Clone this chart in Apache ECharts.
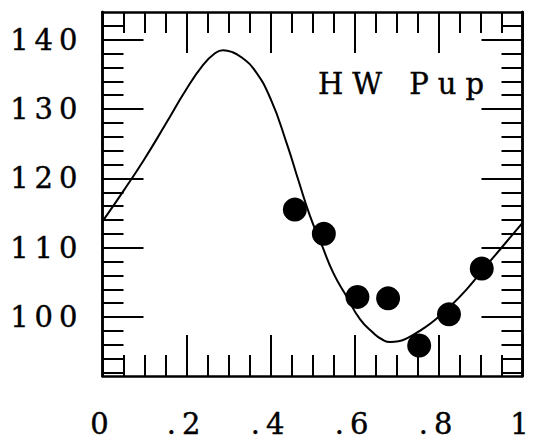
<!DOCTYPE html>
<html>
<head>
<meta charset="utf-8">
<script src="https://cdn.jsdelivr.net/npm/echarts@6/dist/echarts.min.js"></script>
<style>
  html, body { margin: 0; padding: 0; background: #fff; }
  #chart { width: 534px; height: 440px; }
  #chart text { letter-spacing: 6px; }
</style>
</head>
<body>
<div id="chart"></div>
<script>
// ---- data ----
const starName = 'HW Pup';
const xTickValues = [0, 0.2, 0.4, 0.6, 0.8, 1];
const xTickLabels = ['0', '.2', '.4', '.6', '.8', '1'];
const yMajorTicks = [100, 110, 120, 130, 140];
const yMajorLabels = ['100', '110', '120', '130', '140'];
const yMinorTicks = [92, 94, 96, 98, 102, 104, 106, 108, 112, 114, 116, 118, 122, 124, 126, 128, 132, 134, 136, 138, 142];

// fitted velocity curve (phase, km/s)
const curvePhase = [0.00, 0.05, 0.10, 0.15, 0.20, 0.24, 0.265, 0.287, 0.31, 0.33, 0.36, 0.40, 0.44, 0.466, 0.494, 0.522, 0.55, 0.581, 0.613, 0.645, 0.665, 0.685, 0.705, 0.73, 0.76, 0.79, 0.827, 0.867, 0.907, 0.95, 1.00];
const curveVelocity = [113.8, 118.2, 122.8, 127.8, 132.9, 136.4, 137.9, 138.5, 138.2, 137.5, 135.8, 131.5, 124.8, 119.8, 114.6, 110.4, 106.3, 103.0, 99.7, 97.7, 96.8, 96.4, 96.5, 97.1, 98.2, 99.5, 101.5, 104.0, 106.9, 110.0, 113.6];

// observed points
const obsPhase = [0.458, 0.527, 0.607, 0.680, 0.754, 0.825, 0.903];
const obsVelocity = [115.5, 112.0, 102.9, 102.7, 95.9, 100.4, 107.0];

const X_MIN = 0, X_MAX = 1, Y_MIN = 91.5, Y_MAX = 144;

const chart = echarts.init(document.getElementById('chart'), null, { renderer: 'svg' });

const font = 'DejaVu Serif';
const black = '#000';
const lineStyle = { color: black, width: 2 };
const FS = 29;
const textStroke = { textBorderColor: black, textBorderWidth: 0.4 };

function xAxisDef(pos, showLabels) {
  return {
    type: 'value', position: pos, min: X_MIN, max: X_MAX, interval: 0.2,
    axisLine: { show: true, onZero: false, lineStyle: { color: black, width: 2.5 } },
    axisTick: { show: true, inside: true, length: 41, lineStyle: lineStyle },
    minorTick: { show: true, splitNumber: 4, length: 21, lineStyle: lineStyle },
    splitLine: { show: false }, minorSplitLine: { show: false },
    axisLabel: Object.assign({
      show: showLabels, margin: 33, color: black, fontFamily: font, fontSize: FS, lineHeight: 29,
      showMinLabel: true, showMaxLabel: true,
      formatter: v => xTickLabels[xTickValues.findIndex(t => Math.abs(t - v) < 1e-6)]
    }, textStroke)
  };
}
function yAxisDef(pos, ticks, len, showLabels) {
  return {
    type: 'value', position: pos, min: Y_MIN, max: Y_MAX,
    axisLine: { show: true, onZero: false, lineStyle: { color: black, width: 2.5 } },
    axisTick: { show: true, inside: true, length: len, customValues: ticks, lineStyle: lineStyle },
    splitLine: { show: false },
    axisLabel: showLabels ? Object.assign({
      show: true, margin: 19, color: black, fontFamily: font, fontSize: FS,
      customValues: ticks,
      formatter: v => yMajorLabels[yMajorTicks.indexOf(Math.round(v))]
    }, textStroke) : { show: false }
  };
}

chart.setOption({
  animation: false,
  backgroundColor: '#fff',
  grid: { left: 102.5, top: 12, width: 420, height: 364, outerBoundsMode: 'none', containLabel: false },
  xAxis: [xAxisDef('bottom', true), xAxisDef('top', false)],
  yAxis: [
    yAxisDef('left', yMajorTicks, 41, true),
    yAxisDef('left', yMinorTicks, 21, false),
    yAxisDef('right', yMajorTicks, 41, false),
    yAxisDef('right', yMinorTicks, 21, false)
  ],
  graphic: [{
    type: 'text', x: 318, y: 84, z: 10,
    style: { text: starName, fill: black, fontFamily: font, fontSize: FS, align: 'left', verticalAlign: 'middle', stroke: black, lineWidth: 0.4 }
  }],
  series: [
    {
      type: 'line', xAxisIndex: 0, yAxisIndex: 0, smooth: 0.5, symbol: 'none',
      lineStyle: { color: black, width: 2 },
      data: curvePhase.map((p, i) => [p, curveVelocity[i]]),
      z: 2
    },
    {
      type: 'scatter', xAxisIndex: 0, yAxisIndex: 0, symbol: 'circle', symbolSize: 24,
      itemStyle: { color: black, opacity: 1 },
      data: obsPhase.map((p, i) => [p, obsVelocity[i]]),
      z: 3
    }
  ]
});

// wider tracking for the star name, as in the reference
document.querySelectorAll('#chart text').forEach(t => {
  if (t.textContent === starName) t.style.letterSpacing = '9px';
});
</script>
</body>
</html>
